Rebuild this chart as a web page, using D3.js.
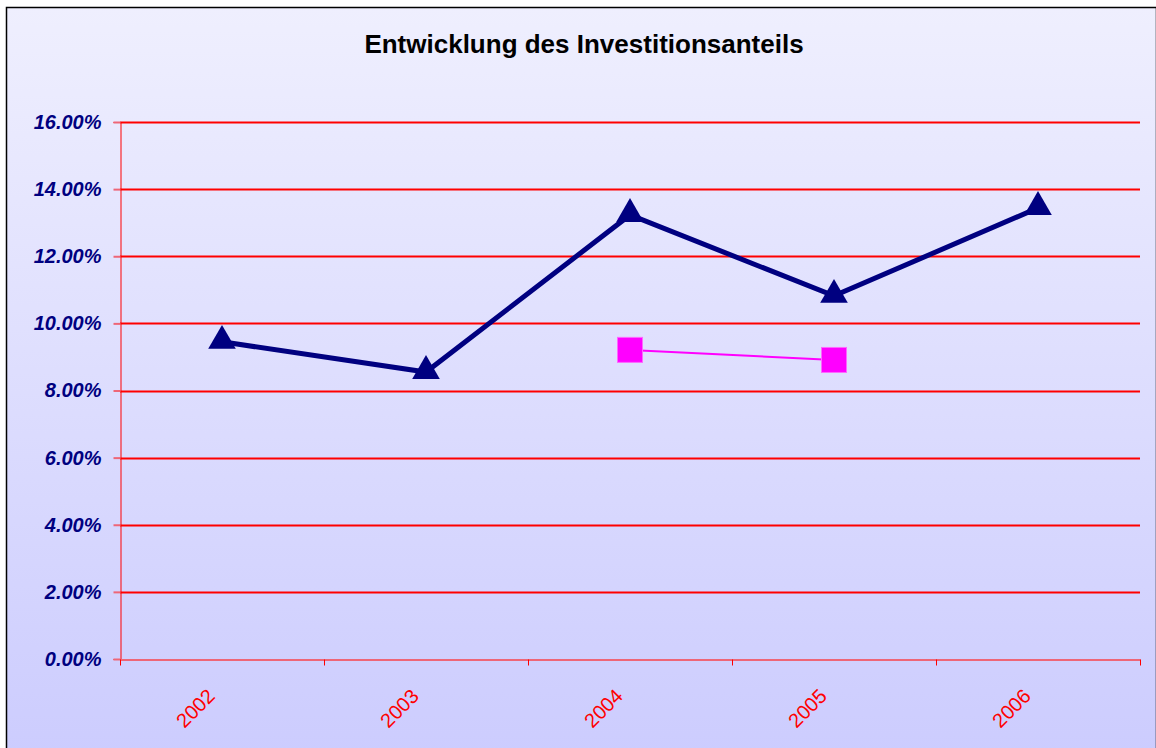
<!DOCTYPE html>
<html>
<head>
<meta charset="utf-8">
<script src="https://cdn.jsdelivr.net/npm/d3@7"></script>
<style>
  body { margin: 0; background: #fff; }
  text { font-family: "Liberation Sans", Arial, sans-serif; }
</style>
</head>
<body>
<svg id="chart" width="1156" height="748"></svg>
<script>
// chart data
var years = ['2002', '2003', '2004', '2005', '2006'];
var investShare = [0.0945, 0.0855, 0.1323, 0.1082, 0.1344];
var secondShare = [null, null, 0.0921, 0.0891, null];
var yTicks = [0, 0.02, 0.04, 0.06, 0.08, 0.10, 0.12, 0.14, 0.16];

var svg = d3.select('#chart');
var width = 1156, height = 748;
var margin = { left: 120, right: 16, top: 122, bottom: 89 };

// background gradient
var defs = svg.append('defs');
var grad = defs.append('linearGradient')
  .attr('id', 'bg')
  .attr('x1', 0).attr('y1', 0).attr('x2', 0).attr('y2', 1);
grad.append('stop').attr('offset', '0%').attr('stop-color', '#efeffe');
grad.append('stop').attr('offset', '100%').attr('stop-color', '#ccccfe');

svg.append('rect')
  .attr('x', 6.5).attr('y', 7.5)
  .attr('width', width - 6).attr('height', height)
  .attr('fill', 'url(#bg)')
  .attr('stroke', '#000')
  .attr('stroke-width', 1.5);

svg.append('text')
  .attr('x', 584).attr('y', 53)
  .attr('text-anchor', 'middle')
  .attr('font-size', 26)
  .attr('font-weight', 'bold')
  .text('Entwicklung des Investitionsanteils');

var x = d3.scaleBand()
  .domain(years)
  .range([margin.left, width - margin.right]);

var y = d3.scaleLinear()
  .domain([0, 0.16])
  .range([height - margin.bottom, margin.top]);

// gridlines
svg.append('g').selectAll('line')
  .data(yTicks.slice(1))
  .enter()
  .append('line')
  .attr('x1', margin.left).attr('x2', width - margin.right)
  .attr('y1', function(d) { return Math.round(y(d)) + 0.5; })
  .attr('y2', function(d) { return Math.round(y(d)) + 0.5; })
  .attr('stroke', '#ff0000')
  .attr('stroke-width', 2);

// y axis
var yAxis = svg.append('g')
  .attr('transform', 'translate(' + (margin.left + 0.5) + ',0)')
  .call(d3.axisLeft(y).tickValues(yTicks).tickSize(7).tickPadding(12)
    .tickFormat(function(d) { return (d * 100).toFixed(2) + '%'; }));
yAxis.select('.domain').attr('stroke', '#ff0000');
yAxis.selectAll('.tick line').attr('stroke', '#ee6677').attr('stroke-width', 2);
yAxis.selectAll('.tick text')
  .attr('fill', '#000080')
  .attr('font-size', 20)
  .attr('font-weight', 'bold')
  .attr('font-style', 'italic')
  .attr('font-family', '"Liberation Sans", Arial, sans-serif');

// x axis
var xAxis = svg.append('g')
  .attr('transform', 'translate(0,' + (Math.round(y(0)) + 0.5) + ')')
  .call(d3.axisBottom(x).tickSize(0).tickPadding(0));
xAxis.select('.domain').attr('stroke', '#ee6677').attr('stroke-width', 2);
xAxis.selectAll('.tick text')
  .attr('fill', '#ff0000')
  .attr('font-size', 20)
  .attr('font-family', '"Liberation Sans", Arial, sans-serif')
  .attr('text-anchor', 'end')
  .attr('transform', 'translate(-6,38) rotate(-45)')
  .attr('dy', 0);

// category boundary ticks
var bounds = years.map(function(d) { return x(d); }).concat([width - margin.right]);
xAxis.selectAll('line.bound')
  .data(bounds)
  .enter()
  .append('line')
  .attr('class', 'bound')
  .attr('x1', function(d) { return d + 0.5; })
  .attr('x2', function(d) { return d + 0.5; })
  .attr('y1', 0).attr('y2', 6)
  .attr('stroke', '#ff0000');

var cx = function(d, i) { return x(years[i]) + x.bandwidth() / 2; };

// main series
var line = d3.line()
  .defined(function(d) { return d !== null; })
  .x(cx)
  .y(function(d) { return y(d); });

svg.append('path')
  .datum(investShare)
  .attr('d', line)
  .attr('fill', 'none')
  .attr('stroke', '#000080')
  .attr('stroke-width', 5);

svg.append('g').selectAll('path')
  .data(investShare)
  .enter()
  .append('path')
  .attr('d', d3.symbol().type(d3.symbolTriangle).size(330))
  .attr('transform', function(d, i) { return 'translate(' + cx(d, i) + ',' + (y(d) - 1) + ')'; })
  .attr('fill', '#000080');

// second series
svg.append('path')
  .datum(secondShare)
  .attr('d', line)
  .attr('fill', 'none')
  .attr('stroke', '#ff00ff')
  .attr('stroke-width', 2);

svg.append('g').selectAll('rect')
  .data(secondShare)
  .enter()
  .filter(function(d) { return d !== null; })
  .append('rect')
  .attr('x', function(d) { return cx(d, secondShare.indexOf(d)) - 12.5; })
  .attr('y', function(d) { return y(d) - 12.5; })
  .attr('width', 25).attr('height', 25)
  .attr('fill', '#ff00ff')
  .attr('stroke', '#ff66ff')
  .attr('stroke-width', 1);
</script>
</body>
</html>
